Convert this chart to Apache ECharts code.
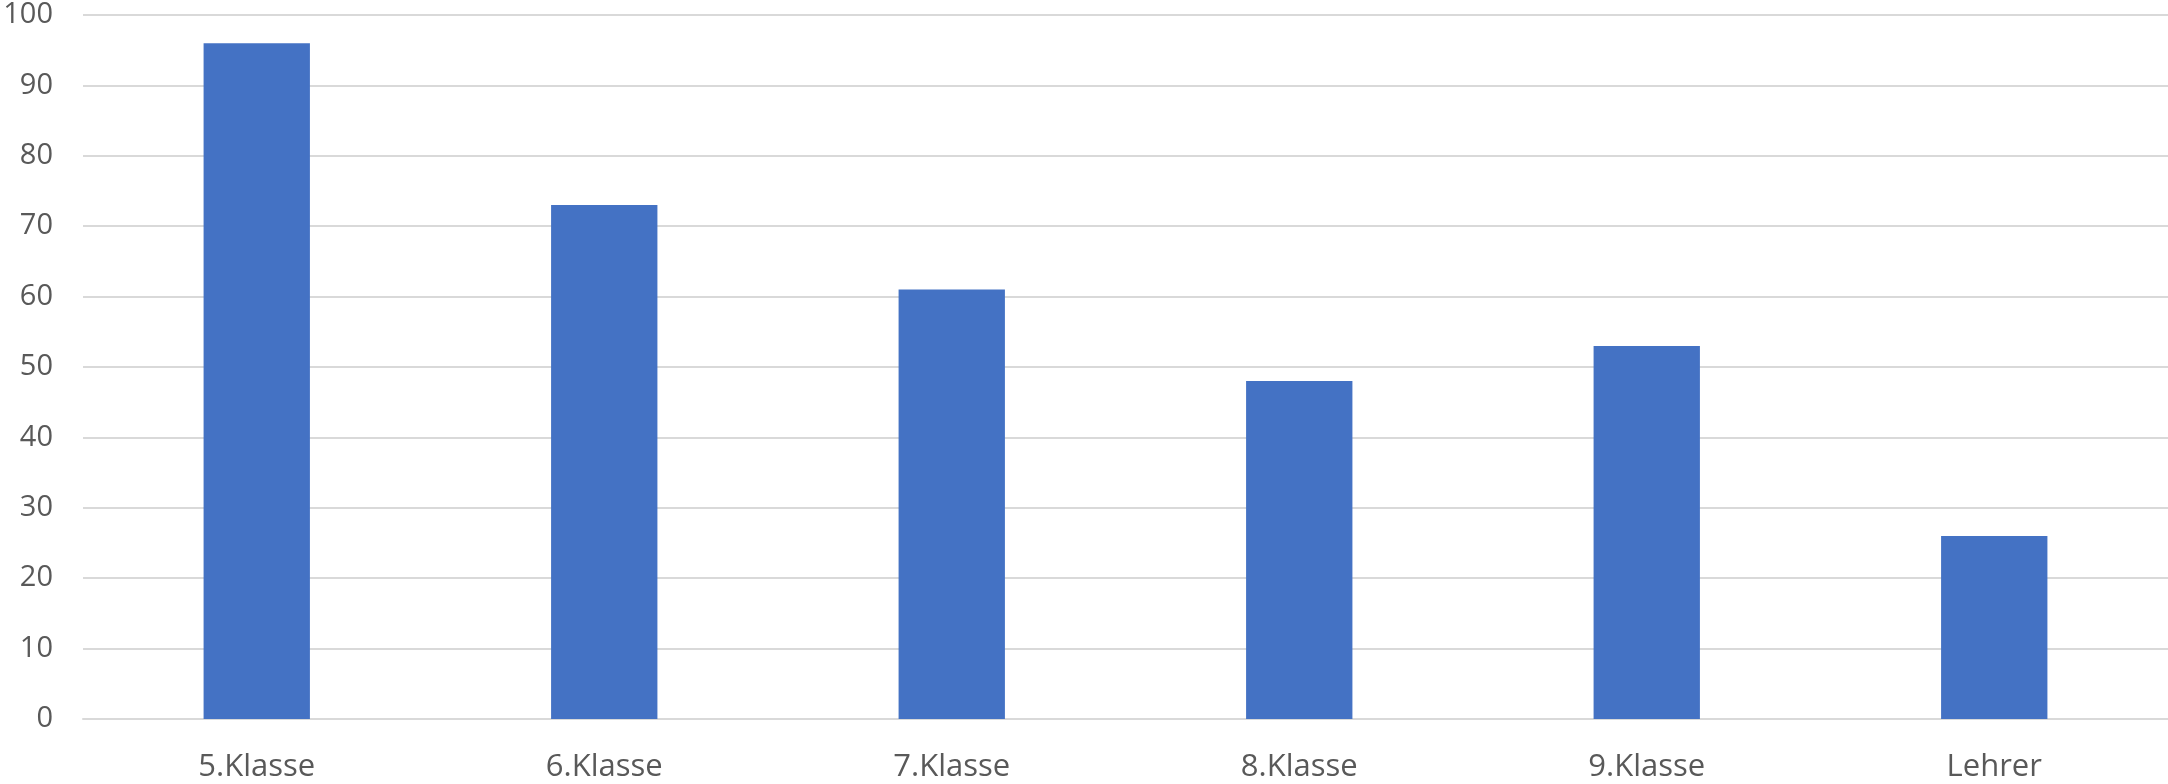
<!DOCTYPE html>
<html>
<head>
<meta charset="utf-8">
<script src="https://cdn.jsdelivr.net/npm/echarts@6/dist/echarts.min.js"></script>
<style>
html,body{margin:0;padding:0;background:#fff;}
#c{width:2168px;height:784px;}
</style>
</head>
<body>
<div id="c"></div>
<script>
const categories = ['5.Klasse', '6.Klasse', '7.Klasse', '8.Klasse', '9.Klasse', 'Lehrer'];
const values = [96, 73, 61, 48, 53, 26];
const yMin = 0, yMax = 100, yStep = 10;

const chart = echarts.init(document.getElementById('c'), null, {renderer: 'canvas'});
chart.setOption({
  animation: false,
  backgroundColor: '#ffffff',
  textStyle: {fontFamily: 'Open Sans'},
  grid: {left: 83, right: 0, top: 15, bottom: 65, containLabel: false},
  xAxis: {
    type: 'category',
    data: categories,
    axisLine: {show: true, lineStyle: {color: '#d9d9d9', width: 2}},
    axisTick: {show: false},
    axisLabel: {color: '#595959', fontSize: 31, margin: 33, fontFamily: 'Open Sans'}
  },
  yAxis: {
    type: 'value',
    min: yMin, max: yMax, interval: yStep,
    axisLine: {show: false},
    axisTick: {show: false},
    splitLine: {lineStyle: {color: '#d9d9d9', width: 2}},
    axisLabel: {color: '#595959', fontSize: 29, margin: 30, fontFamily: 'Open Sans'}
  },
  series: [{
    type: 'bar',
    data: values,
    barWidth: '30.6%',
    itemStyle: {color: '#4472C4'}
  }]
});
</script>
</body>
</html>
